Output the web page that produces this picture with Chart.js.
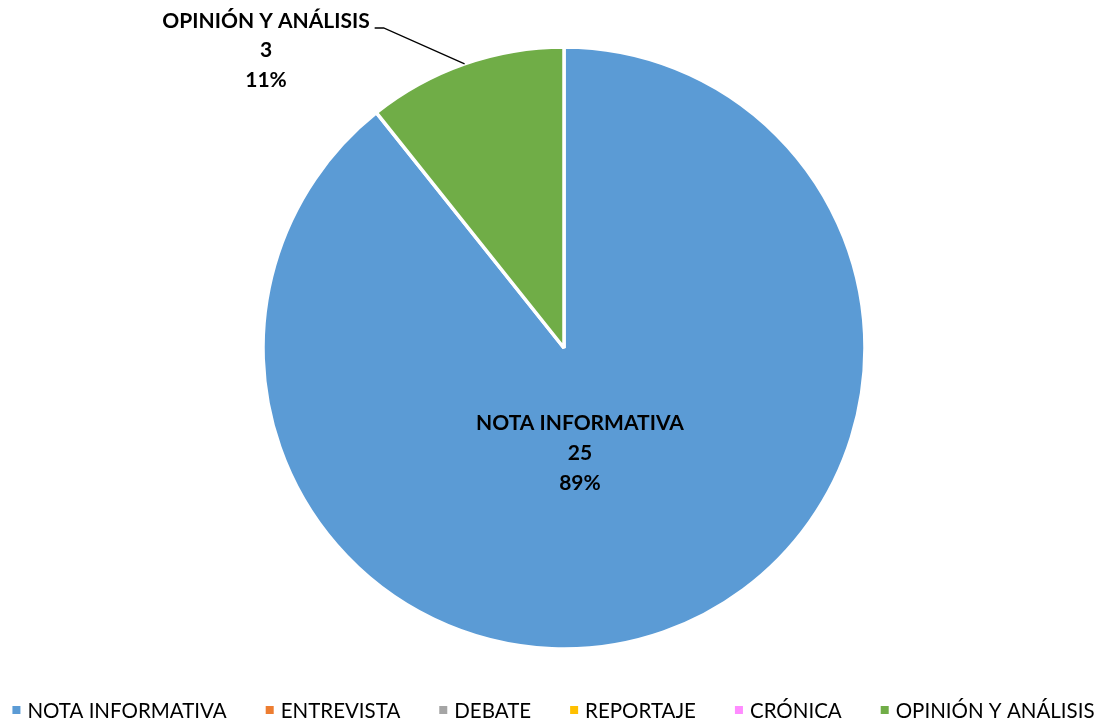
<!DOCTYPE html>
<html>
<head>
<meta charset="utf-8">
<script src="https://cdn.jsdelivr.net/npm/chart.js@4.4.1/dist/chart.umd.min.js"></script>
<style>
html,body{margin:0;padding:0;background:#fff;}
#wrap{width:1095px;height:720px;position:relative;}
</style>
</head>
<body>
<div id="wrap"><canvas id="c" width="1095" height="720"></canvas></div>
<script>
const categories = ["NOTA INFORMATIVA", "ENTREVISTA", "DEBATE", "REPORTAJE", "CRÓNICA", "OPINIÓN Y ANÁLISIS"];
const values = [25, 0, 0, 0, 0, 3];
const colors = ["#5B9BD5", "#ED7D31", "#A5A5A5", "#FFC000", "#FF8CFF", "#70AD47"];

const FONT = "Lato, 'Open Sans', sans-serif";

const labelPlugin = {
  id: 'sliceLabels',
  afterDatasetsDraw(chart) {
    const ctx = chart.ctx;
    const meta = chart.getDatasetMeta(0);
    const total = values.reduce((a, b) => a + b, 0);
    ctx.save();
    ctx.font = "bold 21px " + FONT;
    ctx.fillStyle = "#000";
    ctx.textAlign = "center";
    ctx.textBaseline = "middle";
    meta.data.forEach((arc, i) => {
      if (!values[i]) return;
      const p = arc.getProps(['x', 'y', 'startAngle', 'endAngle', 'outerRadius'], true);
      const pct = Math.round(values[i] / total * 100) + "%";
      const lines = [categories[i], String(values[i]), pct];
      if (i === 0) {
        const cx = p.x + 0.053 * p.outerRadius;
        const cy = p.y + 0.35 * p.outerRadius;
        lines.forEach((t, k) => ctx.fillText(t, cx, cy - 30 + k * 30));
      } else {
        const mid = (p.startAngle + p.endAngle) / 2;
        const ex = p.x + Math.cos(mid) * p.outerRadius;
        const ey = p.y + Math.sin(mid) * p.outerRadius;
        const tx = 266, ty = 21;
        lines.forEach((t, k) => ctx.fillText(t, tx, ty + k * 29.5));
        const w = ctx.measureText(lines[0]).width;
        const lx = tx + w / 2 + 5;
        ctx.beginPath();
        ctx.strokeStyle = "#000";
        ctx.lineWidth = 1.3;
        ctx.moveTo(lx, ty + 7);
        ctx.lineTo(lx + 9, ty + 7);
        ctx.lineTo(ex, ey);
        ctx.stroke();
      }
    });
    ctx.restore();
  }
};

const legendPlugin = {
  id: 'bottomLegend',
  afterDraw(chart) {
    const ctx = chart.ctx;
    ctx.save();
    ctx.font = "20.5px " + FONT;
    ctx.textBaseline = "middle";
    ctx.textAlign = "left";
    const box = 8, gapBox = 7, gapItem = 39;
    const widths = categories.map(t => ctx.measureText(t).width);
    const total = widths.reduce((a, b) => a + b, 0) + categories.length * (box + gapBox) + (categories.length - 1) * gapItem;
    let x = (chart.width - total) / 2 + 6;
    const y = 710;
    categories.forEach((t, i) => {
      ctx.fillStyle = colors[i];
      ctx.fillRect(x, y - box / 2, box, box);
      ctx.fillStyle = "#000";
      ctx.fillText(t, x + box + gapBox, y + 1);
      x += box + gapBox + widths[i] + gapItem;
    });
    ctx.restore();
  }
};

new Chart(document.getElementById('c'), {
  type: 'pie',
  data: {
    labels: categories,
    datasets: [{
      data: values,
      backgroundColor: colors,
      borderColor: "#ffffff",
      borderWidth: 3.5,
      radius: 301
    }]
  },
  options: {
    responsive: false,
    animation: false,
    layout: { padding: { left: 33, top: 0, bottom: 24, right: 0 } },
    plugins: {
      tooltip: { enabled: false },
      legend: { display: false }
    }
  },
  plugins: [labelPlugin, legendPlugin]
});
</script>
</body>
</html>
